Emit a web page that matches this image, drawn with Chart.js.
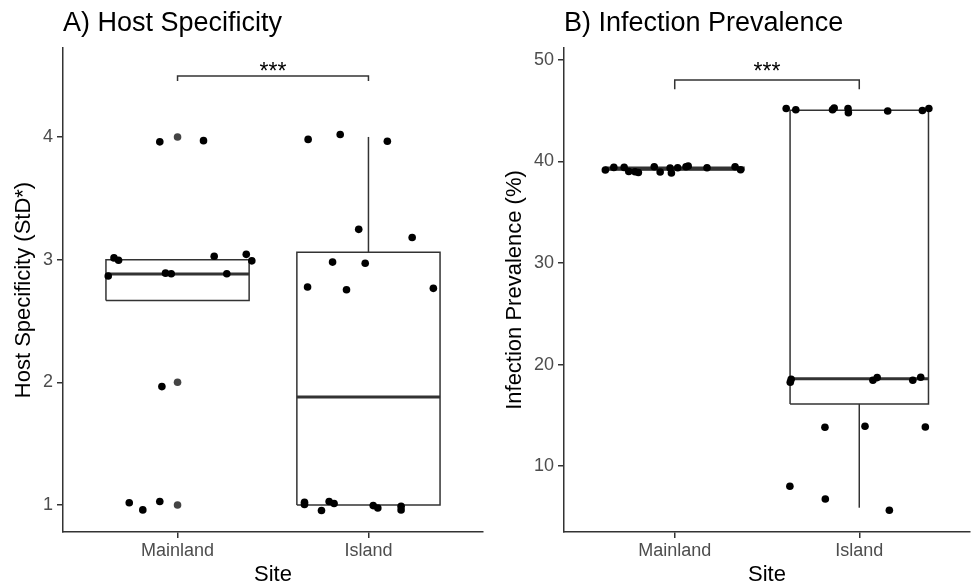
<!DOCTYPE html>
<html>
<head>
<meta charset="utf-8">
<script src="https://cdn.jsdelivr.net/npm/chart.js@4"></script>
<style>
  body { margin: 0; background: #fff; }
  #wrap { position: relative; width: 974px; height: 586px; }
  canvas { position: absolute; top: 0; }
</style>
</head>
<body>
<div id="wrap">
  <canvas id="chartA" width="487" height="586" style="left:0"></canvas>
  <canvas id="chartB" width="487" height="586" style="left:487px"></canvas>
</div>
<script>
// categories (x = 1 Mainland, x = 2 Island)
const SITES = ['Mainland', 'Island'];

// A) Host specificity - jittered points
const hostMainlandX = [0.907, 1.136, 0.637, 0.667, 0.691, 0.937, 0.967, 1.192, 1.258, 1.360, 1.389, 0.918, 0.747, 0.818, 0.907];
const hostMainlandY = [3.96, 3.97, 2.867, 3.014, 2.995, 2.89, 2.885, 3.027, 2.885, 3.043, 2.99, 1.965, 1.019, 0.96, 1.028];
const hostIslandX = [1.684, 1.852, 2.099, 1.949, 2.229, 1.812, 1.983, 1.681, 1.885, 2.340, 1.665, 1.665, 1.754, 1.794, 1.820, 2.025, 2.049, 2.171, 2.171];
const hostIslandY = [3.98, 4.02, 3.965, 3.247, 3.18, 2.98, 2.97, 2.777, 2.755, 2.766, 1.022, 1.005, 0.955, 1.028, 1.012, 0.995, 0.976, 0.99, 0.96];
// boxplot stats per site
const hostQ1 = [2.666, 1.0];
const hostMedian = [2.883, 1.88];
const hostQ3 = [3.0, 3.06];
const hostLow = [2.666, 1.0];
const hostHigh = [3.0, 4.0];
const hostOutlierY = [4.0, 2.0, 1.0]; // Mainland outliers
const hostTicks = [1, 2, 3, 4];
const hostBracket = [4.456, 4.497];
const hostStarsY = 4.58;

// B) Infection prevalence
const prevMainlandX = [0.624, 0.670, 0.726, 0.751, 0.785, 0.803, 0.889, 0.921, 0.975, 0.982, 1.016, 1.061, 1.073, 1.175, 1.327, 1.357];
const prevMainlandY = [39.14, 39.4, 39.4, 39.0, 38.98, 38.9, 39.46, 38.95, 39.34, 38.85, 39.37, 39.46, 39.53, 39.37, 39.46, 39.17];
const prevIslandX = [1.604, 1.656, 1.855, 1.864, 1.939, 1.941, 2.154, 2.342, 2.377, 1.626, 1.631, 2.074, 2.097, 2.290, 2.333, 1.814, 2.031, 2.358, 1.624, 1.816, 2.163];
const prevIslandY = [45.2, 45.08, 45.08, 45.25, 45.2, 44.79, 44.95, 45.0, 45.2, 18.27, 18.56, 18.46, 18.72, 18.46, 18.76, 13.83, 13.93, 13.86, 8.03, 6.78, 5.67];
const prevQ1 = [39.15, 16.13];
const prevMedian = [39.28, 18.62];
const prevQ3 = [39.42, 45.02];
const prevLow = [39.15, 5.92];
const prevHigh = [39.42, 45.02];
const prevTicks = [10, 20, 30, 40, 50];
const prevBracket = [47.1, 48.0];
const prevStarsY = 49.38;

const BOX_HALF = 0.375;
const LINE_COLOR = '#333333';
const TICK_TEXT = '#4d4d4d';
const DOT_R = 3.8;

Chart.defaults.font.family = "'Liberation Sans', Arial, sans-serif";

const toPoints = (xs, ys) => xs.map((x, i) => ({ x: x, y: ys[i] }));

function lineSet(data, width) {
    return { type: 'scatter', data: data, showLine: true, pointRadius: 0, borderColor: LINE_COLOR,
             borderWidth: width, fill: false, tension: 0, order: 2 };
}

const panelText = {
    id: 'panelText',
    afterDraw(chart, args, opts) {
        const ctx = chart.ctx;
        ctx.save();
        ctx.fillStyle = '#000';
        ctx.textBaseline = 'alphabetic';
        ctx.textAlign = 'left';
        ctx.font = "27px 'Liberation Sans', Arial, sans-serif";
        ctx.fillText(opts.title, chart.chartArea.left, 31);
        ctx.textAlign = 'center';
        ctx.font = "23px 'Liberation Sans', Arial, sans-serif";
        ctx.fillText('***', chart.scales.x.getPixelForValue(1.5), chart.scales.y.getPixelForValue(opts.starsY) + 13);
        ctx.restore();
    }
};

function buildPanel(id, p) {
    const datasets = [];
    // jittered points on top
    datasets.push({ type: 'scatter', data: toPoints(p.mx, p.my), backgroundColor: '#000', borderWidth: 0, pointRadius: DOT_R, order: 0 });
    datasets.push({ type: 'scatter', data: toPoints(p.ix, p.iy), backgroundColor: '#000', borderWidth: 0, pointRadius: DOT_R, order: 0 });
    if (p.outliers.length) {
        datasets.push({ type: 'scatter', data: p.outliers.map(y => ({ x: 1, y: y })), backgroundColor: '#444', borderWidth: 0, pointRadius: DOT_R, order: 1 });
    }
    for (let i = 0; i < 2; i++) {
        const c = i + 1;
        datasets.push(lineSet([
            { x: c - BOX_HALF, y: p.q1[i] }, { x: c + BOX_HALF, y: p.q1[i] },
            { x: c + BOX_HALF, y: p.q3[i] }, { x: c - BOX_HALF, y: p.q3[i] },
            { x: c - BOX_HALF, y: p.q1[i] }], 1.5));
        datasets.push(lineSet([{ x: c - BOX_HALF, y: p.med[i] }, { x: c + BOX_HALF, y: p.med[i] }], 3));
        if (p.high[i] > p.q3[i]) datasets.push(lineSet([{ x: c, y: p.q3[i] }, { x: c, y: p.high[i] }], 1.5));
        if (p.low[i] < p.q1[i]) datasets.push(lineSet([{ x: c, y: p.low[i] }, { x: c, y: p.q1[i] }], 1.5));
    }
    // significance bracket
    datasets.push(lineSet([{ x: 1, y: p.bracket[0] }, { x: 1, y: p.bracket[1] },
                           { x: 2, y: p.bracket[1] }, { x: 2, y: p.bracket[0] }], 1.5));

    return new Chart(document.getElementById(id), {
        type: 'scatter',
        data: { datasets: datasets },
        plugins: [panelText],
        options: {
            responsive: false,
            animation: false,
            layout: { padding: { top: 48, right: p.padRight, left: 0, bottom: 0 } },
            plugins: {
                legend: { display: false },
                tooltip: { enabled: false },
                panelText: { title: p.title, starsY: p.starsY }
            },
            scales: {
                x: {
                    type: 'linear', min: 0.4, max: 2.6,
                    afterBuildTicks: s => { s.ticks = [{ value: 1 }, { value: 2 }]; },
                    afterFit: s => { s.height = 54; },
                    ticks: { callback: v => SITES[v - 1], color: TICK_TEXT, font: { size: 18 }, padding: 2, maxRotation: 0 },
                    grid: { drawOnChartArea: false, drawTicks: true, tickLength: 6, color: LINE_COLOR, lineWidth: 1.5 },
                    border: { color: LINE_COLOR, width: 1.5 },
                    title: { display: true, text: 'Site', color: '#000', font: { size: 22, lineHeight: 1 }, padding: { top: 0, bottom: 0 } }
                },
                y: {
                    type: 'linear', min: p.yMin, max: p.yMax,
                    afterBuildTicks: s => { s.ticks = p.ticks.map(v => ({ value: v })); },
                    afterFit: s => { s.width = p.yWidth; },
                    ticks: { color: TICK_TEXT, font: { size: 18 }, padding: 4 },
                    grid: { drawOnChartArea: false, drawTicks: true, tickLength: 6, color: LINE_COLOR, lineWidth: 1.5 },
                    border: { color: LINE_COLOR, width: 1.5 },
                    title: { display: true, text: p.yTitle, color: '#000', font: { size: 22, lineHeight: 1 }, padding: { top: p.yTitlePad, bottom: 0 } }
                }
            }
        }
    });
}

buildPanel('chartA', {
    title: 'A) Host Specificity', yTitle: 'Host Specificity (StD*)',
    mx: hostMainlandX, my: hostMainlandY, ix: hostIslandX, iy: hostIslandY,
    q1: hostQ1, med: hostMedian, q3: hostQ3, low: hostLow, high: hostHigh,
    outliers: hostOutlierY, ticks: hostTicks, bracket: hostBracket, starsY: hostStarsY,
    yMin: 0.78, yMax: 4.725, yWidth: 63, yTitlePad: 13, padRight: 4
});

buildPanel('chartB', {
    title: 'B) Infection Prevalence', yTitle: 'Infection Prevalence (%)',
    mx: prevMainlandX, my: prevMainlandY, ix: prevIslandX, iy: prevIslandY,
    q1: prevQ1, med: prevMedian, q3: prevQ3, low: prevLow, high: prevHigh,
    outliers: [], ticks: prevTicks, bracket: prevBracket, starsY: prevStarsY,
    yMin: 3.53, yMax: 51.15, yWidth: 77, yTitlePad: 17, padRight: -3
});
</script>
</body>
</html>
